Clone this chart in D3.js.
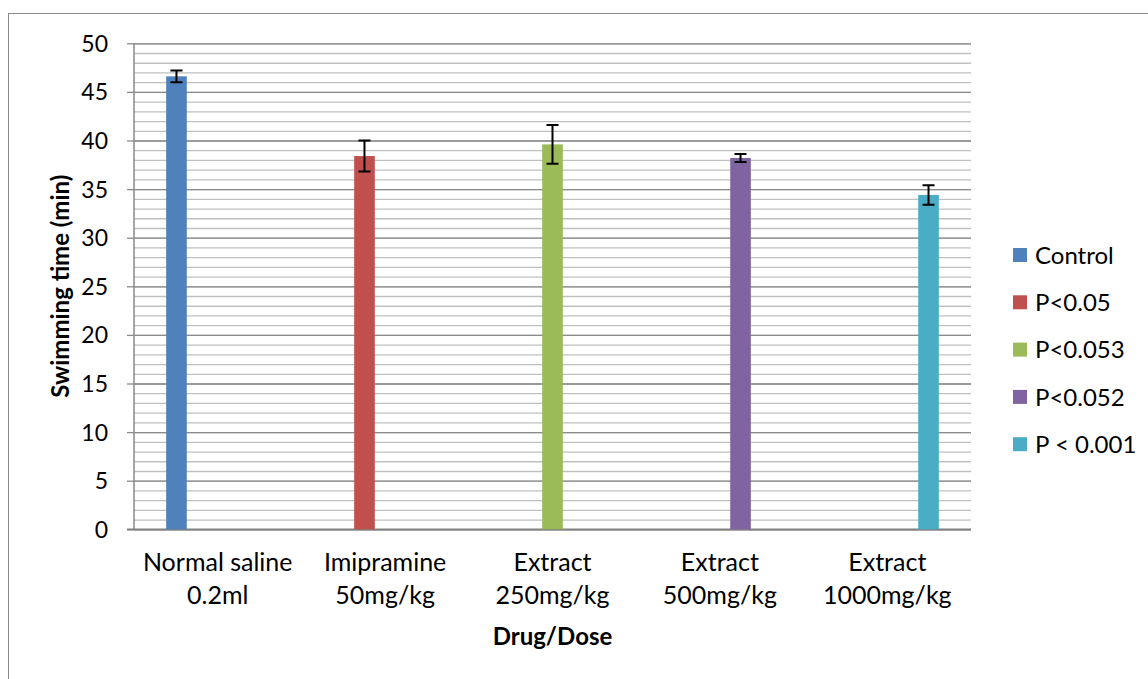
<!DOCTYPE html>
<meta charset="utf-8">
<style>
body { margin: 0; background: #fff; }
text { font-family: Lato, "Open Sans", sans-serif; fill: #000; }
.grid line { stroke: #c0c0c0; stroke-width: 1.3; }
.major line { stroke: #8a8a8a; stroke-width: 1.3; }
.domain { display: none; }
</style>
<body>
<script src="https://d3js.org/d3.v7.min.js"></script>
<script>

var width = 1148,
    height = 679;

var margin = {top: 43.3, left: 134, right: 177, bottom: 149.7};
var plotW = width - margin.left - margin.right,
    plotH = height - margin.top - margin.bottom;

// data
var categories = ["Normal saline|0.2ml", "Imipramine|50mg/kg", "Extract|250mg/kg", "Extract|500mg/kg", "Extract|1000mg/kg"];
var series = ["Control", "P<0.05", "P<0.053", "P<0.052", "P < 0.001"];
var values = [46.6, 38.4, 39.6, 38.2, 34.4];
var errors = [0.6, 1.6, 2.0, 0.4, 1.0];
var colors = ["#4F81BD", "#C0504D", "#9BBB59", "#8064A2", "#4BACC6"];
var yTicks = [0, 5, 10, 15, 20, 25, 30, 35, 40, 45, 50];

var svg = d3.select("body").append("svg")
    .attr("width", width)
    .attr("height", height);

// chart border
svg.append("rect")
    .attr("x", 8.5).attr("y", 13.5)
    .attr("width", width + 10).attr("height", height + 10)
    .attr("fill", "none")
    .attr("stroke", "#888")
    .attr("stroke-width", 1);

var g = svg.append("g")
    .attr("transform", "translate(" + margin.left + "," + margin.top + ")");

var x0 = d3.scaleBand()
    .domain(categories)
    .range([0, plotW]);

var x1 = d3.scaleBand()
    .domain(series)
    .range([0, x0.bandwidth()])
    .paddingOuter(1.56);

var y = d3.scaleLinear()
    .domain([0, 50])
    .range([plotH, 0]);

// minor gridlines every 1
g.append("g")
    .attr("class", "grid")
    .call(d3.axisLeft(y).tickValues(d3.range(0, 51, 1)).tickSize(-plotW).tickFormat(""));

// major gridlines
g.append("g")
    .attr("class", "major")
    .call(d3.axisLeft(y).tickValues(yTicks).tickSize(-plotW).tickFormat(""));

var yAxis = g.append("g")
    .attr("class", "major")
    .call(d3.axisLeft(y).tickValues(yTicks).tickSize(7).tickPadding(19));
yAxis.selectAll("text").style("font-size", "23px").attr("dy", "0.35em");

// vertical axis line
g.append("line")
    .attr("x1", 0).attr("x2", 0)
    .attr("y1", 0).attr("y2", plotH)
    .attr("stroke", "#8a8a8a").attr("stroke-width", 1.5);

g.append("line")
    .attr("x1", -7).attr("x2", plotW)
    .attr("y1", plotH).attr("y2", plotH)
    .attr("stroke", "#808080").attr("stroke-width", 1.8);

// bars: one series per category
var bars = g.selectAll(".bar")
    .data(values.map((v, i) => ({cat: categories[i], s: series[i], v: v, e: errors[i], c: colors[i]})))
  .enter().append("g")
    .attr("class", "bar");

bars.append("rect")
    .attr("x", d => x0(d.cat) + x1(d.s))
    .attr("width", x1.bandwidth())
    .attr("y", d => y(d.v))
    .attr("height", d => plotH - y(d.v))
    .attr("fill", d => d.c);

var cap = 6;
bars.append("path")
    .attr("d", function(d) {
        var cx = x0(d.cat) + x1(d.s) + x1.bandwidth() / 2,
            t = y(d.v + d.e), b = y(d.v - d.e);
        return "M" + (cx - cap) + "," + t + "H" + (cx + cap) +
               "M" + cx + "," + t + "V" + b +
               "M" + (cx - cap) + "," + b + "H" + (cx + cap);
    })
    .attr("fill", "none")
    .attr("stroke", "#000")
    .attr("stroke-width", 2);

// category labels
var xl = g.selectAll(".xlab")
    .data(categories)
  .enter().append("text")
    .attr("class", "xlab")
    .attr("text-anchor", "middle")
    .attr("transform", d => "translate(" + (x0(d) + x0.bandwidth() / 2) + "," + (plotH + 42) + ")")
    .style("font-size", "25px");

xl.selectAll("tspan")
    .data(d => d.split("|"))
  .enter().append("tspan")
    .attr("x", 0)
    .attr("dy", (d, i) => i == 0 ? 0 : 33)
    .text(d => d);

// axis titles
svg.append("text")
    .attr("text-anchor", "middle")
    .attr("x", margin.left + plotW / 2)
    .attr("y", 645)
    .style("font-size", "24px")
    .style("font-weight", "bold")
    .text("Drug/Dose");

svg.append("text")
    .attr("text-anchor", "middle")
    .attr("transform", "translate(69," + (margin.top + plotH / 2) + ") rotate(-90)")
    .style("font-size", "24px")
    .style("font-weight", "bold")
    .text("Swimming time (min)");

// legend
var leg = svg.selectAll(".leg")
    .data(series)
  .enter().append("g")
    .attr("class", "leg")
    .attr("transform", (d, i) => "translate(1013," + (255 + i * 47.3) + ")");

leg.append("rect")
    .attr("x", 0).attr("y", -7)
    .attr("width", 14).attr("height", 14)
    .attr("fill", (d, i) => colors[i]);

leg.append("text")
    .attr("x", 22)
    .attr("dy", "0.36em")
    .style("font-size", "24px")
    .text(d => d);

</script>
